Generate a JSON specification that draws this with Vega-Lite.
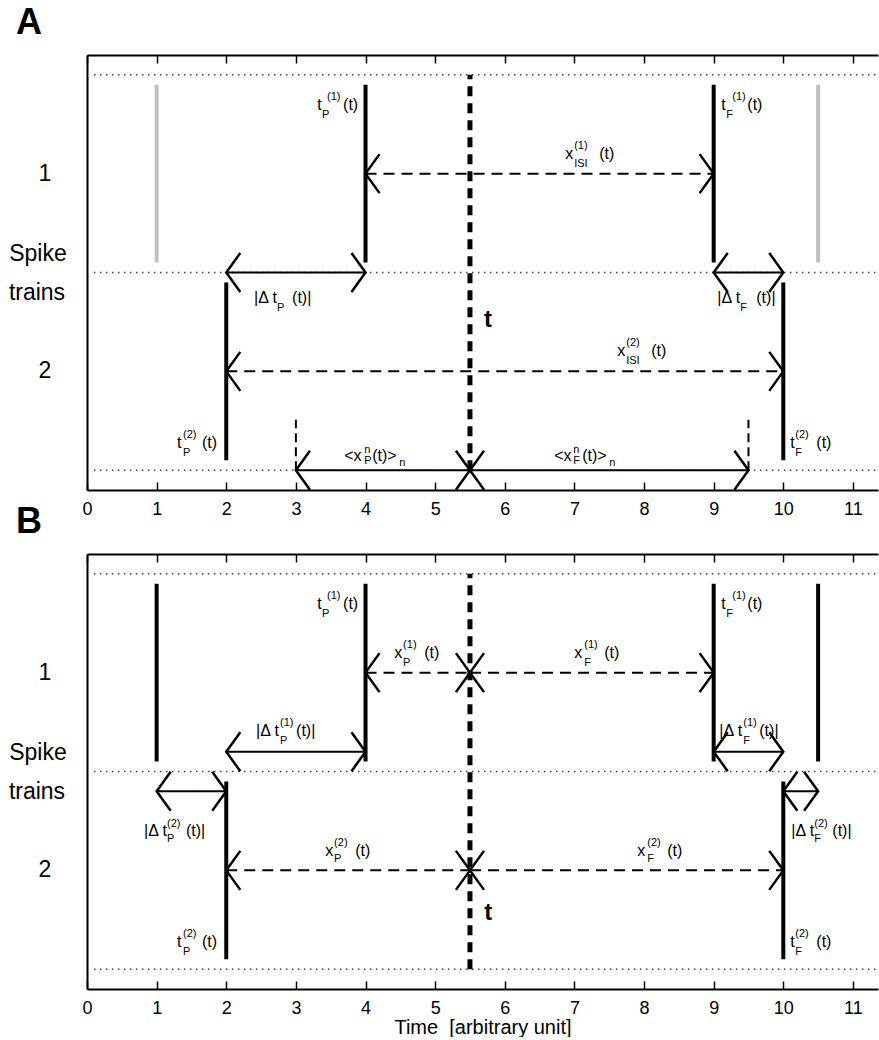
{
  "$schema": "https://vega.github.io/schema/vega-lite/v6.json",
  "background": "white",
  "padding": {"left": 8, "top": 5, "right": 0, "bottom": 0},
  "bounds": "flush",
  "spacing": 64,
  "config": {"view": {"stroke": null}, "font": "Liberation Sans"},
  "datasets": {
    "grid": [
      {"panel": "A", "x0": 0.1, "x1": 11.36, "y": 0},
      {"panel": "A", "x0": 0.1, "x1": 11.36, "y": 1},
      {"panel": "A", "x0": 0.1, "x1": 11.36, "y": 2},
      {"panel": "B", "x0": 0.1, "x1": 11.36, "y": 0},
      {"panel": "B", "x0": 0.1, "x1": 11.36, "y": 1},
      {"panel": "B", "x0": 0.1, "x1": 11.36, "y": 2}
    ],
    "spikes": [
      {"panel": "A", "x": 1, "y": 1.05, "y2": 1.95, "kind": "inactive"},
      {"panel": "A", "x": 4, "y": 1.05, "y2": 1.95, "kind": "active"},
      {"panel": "A", "x": 9, "y": 1.05, "y2": 1.95, "kind": "active"},
      {"panel": "A", "x": 10.5, "y": 1.05, "y2": 1.95, "kind": "inactive"},
      {"panel": "A", "x": 2, "y": 0.05, "y2": 0.95, "kind": "active"},
      {"panel": "A", "x": 10, "y": 0.05, "y2": 0.95, "kind": "active"},
      {"panel": "B", "x": 1, "y": 1.05, "y2": 1.95, "kind": "active"},
      {"panel": "B", "x": 4, "y": 1.05, "y2": 1.95, "kind": "active"},
      {"panel": "B", "x": 9, "y": 1.05, "y2": 1.95, "kind": "active"},
      {"panel": "B", "x": 10.5, "y": 1.05, "y2": 1.95, "kind": "active"},
      {"panel": "B", "x": 2, "y": 0.05, "y2": 0.95, "kind": "active"},
      {"panel": "B", "x": 10, "y": 0.05, "y2": 0.95, "kind": "active"}
    ],
    "tline": [
      {"panel": "A", "x": 5.5, "y": 0, "y2": 2},
      {"panel": "B", "x": 5.5, "y": 0, "y2": 2}
    ],
    "markers": [
      {"panel": "A", "x": 3, "y": 0, "y2": 0.255},
      {"panel": "A", "x": 9.5, "y": 0, "y2": 0.255}
    ],
    "arrows": [
      {"panel": "A", "x0": 2, "x1": 4, "y": 1, "style": "solid"},
      {"panel": "A", "x0": 9, "x1": 10, "y": 1, "style": "solid"},
      {"panel": "A", "x0": 3, "x1": 5.5, "y": 0, "style": "solid"},
      {"panel": "A", "x0": 5.5, "x1": 9.5, "y": 0, "style": "solid"},
      {"panel": "A", "x0": 4, "x1": 9, "y": 1.5, "style": "dashed"},
      {"panel": "A", "x0": 2, "x1": 10, "y": 0.5, "style": "dashed"},
      {"panel": "B", "x0": 2, "x1": 4, "y": 1.1, "style": "solid"},
      {"panel": "B", "x0": 9, "x1": 10, "y": 1.1, "style": "solid"},
      {"panel": "B", "x0": 1, "x1": 2, "y": 0.9, "style": "solid"},
      {"panel": "B", "x0": 10, "x1": 10.5, "y": 0.9, "style": "solid"},
      {"panel": "B", "x0": 4, "x1": 5.5, "y": 1.5, "style": "dashed"},
      {"panel": "B", "x0": 5.5, "x1": 9, "y": 1.5, "style": "dashed"},
      {"panel": "B", "x0": 2, "x1": 5.5, "y": 0.5, "style": "dashed"},
      {"panel": "B", "x0": 5.5, "x1": 10, "y": 0.5, "style": "dashed"}
    ],
    "labels": [
      {"panel": "A", "role": "main", "text": "t", "x": 3.305, "y": 1.849},
      {"panel": "A", "role": "script", "text": "P", "x": 3.376, "y": 1.798},
      {"panel": "A", "role": "script", "text": "(1)", "x": 3.448, "y": 1.889},
      {"panel": "A", "role": "main", "text": "(t)", "x": 3.678, "y": 1.849},
      {"panel": "A", "role": "main", "text": "t", "x": 9.109, "y": 1.849},
      {"panel": "A", "role": "script", "text": "F", "x": 9.181, "y": 1.798},
      {"panel": "A", "role": "script", "text": "(1)", "x": 9.267, "y": 1.889},
      {"panel": "A", "role": "main", "text": "(t)", "x": 9.483, "y": 1.849},
      {"panel": "A", "role": "main", "text": "x", "x": 6.868, "y": 1.601},
      {"panel": "A", "role": "script", "text": "(1)", "x": 6.997, "y": 1.642},
      {"panel": "A", "role": "script", "text": "ISI", "x": 6.997, "y": 1.551},
      {"panel": "A", "role": "main", "text": "(t)", "x": 7.356, "y": 1.601},
      {"panel": "A", "role": "main", "text": "|Δ t", "x": 2.399, "y": 0.873},
      {"panel": "A", "role": "script", "text": "P", "x": 2.73, "y": 0.822},
      {"panel": "A", "role": "main", "text": "(t)|", "x": 2.945, "y": 0.873},
      {"panel": "A", "role": "main", "text": "|Δ t", "x": 9.052, "y": 0.873},
      {"panel": "A", "role": "script", "text": "F", "x": 9.382, "y": 0.822},
      {"panel": "A", "role": "main", "text": "(t)|", "x": 9.612, "y": 0.873},
      {"panel": "A", "role": "main", "text": "x", "x": 7.615, "y": 0.601},
      {"panel": "A", "role": "script", "text": "(2)", "x": 7.744, "y": 0.642},
      {"panel": "A", "role": "script", "text": "ISI", "x": 7.744, "y": 0.551},
      {"panel": "A", "role": "main", "text": "(t)", "x": 8.103, "y": 0.601},
      {"panel": "A", "role": "main", "text": "t", "x": 1.293, "y": 0.138},
      {"panel": "A", "role": "script", "text": "(2)", "x": 1.379, "y": 0.176},
      {"panel": "A", "role": "script", "text": "P", "x": 1.379, "y": 0.087},
      {"panel": "A", "role": "main", "text": "(t)", "x": 1.652, "y": 0.138},
      {"panel": "A", "role": "main", "text": "t", "x": 10.101, "y": 0.138},
      {"panel": "A", "role": "script", "text": "(2)", "x": 10.172, "y": 0.176},
      {"panel": "A", "role": "script", "text": "F", "x": 10.172, "y": 0.087},
      {"panel": "A", "role": "main", "text": "(t)", "x": 10.474, "y": 0.138},
      {"panel": "A", "role": "main", "text": "<x", "x": 3.693, "y": 0.073},
      {"panel": "A", "role": "script", "text": "n", "x": 3.98, "y": 0.104},
      {"panel": "A", "role": "script", "text": "P", "x": 3.98, "y": 0.045},
      {"panel": "A", "role": "main", "text": "(t)>", "x": 4.095, "y": 0.073},
      {"panel": "A", "role": "script", "text": "n", "x": 4.483, "y": 0.035},
      {"panel": "A", "role": "main", "text": "<x", "x": 6.71, "y": 0.073},
      {"panel": "A", "role": "script", "text": "n", "x": 6.983, "y": 0.104},
      {"panel": "A", "role": "script", "text": "F", "x": 6.983, "y": 0.045},
      {"panel": "A", "role": "main", "text": "(t)>", "x": 7.112, "y": 0.073},
      {"panel": "A", "role": "script", "text": "n", "x": 7.5, "y": 0.035},
      {"panel": "A", "role": "tbold", "text": "t", "x": 5.7, "y": 0.76},
      {"panel": "A", "role": "row", "text": "1", "x": -0.603, "y": 1.5},
      {"panel": "A", "role": "row", "text": "2", "x": -0.603, "y": 0.5},
      {"panel": "A", "role": "row", "text": "Spike", "x": -0.704, "y": 1.095},
      {"panel": "A", "role": "row", "text": "trains", "x": -0.718, "y": 0.897},
      {"panel": "A", "role": "letter", "text": "A", "x": -1.02, "y": 2.26},

      {"panel": "B", "role": "main", "text": "t", "x": 3.305, "y": 1.849},
      {"panel": "B", "role": "script", "text": "P", "x": 3.376, "y": 1.798},
      {"panel": "B", "role": "script", "text": "(1)", "x": 3.448, "y": 1.889},
      {"panel": "B", "role": "main", "text": "(t)", "x": 3.678, "y": 1.849},
      {"panel": "B", "role": "main", "text": "t", "x": 9.109, "y": 1.849},
      {"panel": "B", "role": "script", "text": "F", "x": 9.181, "y": 1.798},
      {"panel": "B", "role": "script", "text": "(1)", "x": 9.267, "y": 1.889},
      {"panel": "B", "role": "main", "text": "(t)", "x": 9.483, "y": 1.849},
      {"panel": "B", "role": "main", "text": "x", "x": 4.411, "y": 1.601},
      {"panel": "B", "role": "script", "text": "(1)", "x": 4.54, "y": 1.642},
      {"panel": "B", "role": "script", "text": "P", "x": 4.54, "y": 1.551},
      {"panel": "B", "role": "main", "text": "(t)", "x": 4.842, "y": 1.601},
      {"panel": "B", "role": "main", "text": "x", "x": 6.997, "y": 1.601},
      {"panel": "B", "role": "script", "text": "(1)", "x": 7.141, "y": 1.642},
      {"panel": "B", "role": "script", "text": "F", "x": 7.141, "y": 1.551},
      {"panel": "B", "role": "main", "text": "(t)", "x": 7.428, "y": 1.601},
      {"panel": "B", "role": "main", "text": "|Δ t", "x": 2.428, "y": 1.205},
      {"panel": "B", "role": "script", "text": "(1)", "x": 2.773, "y": 1.246},
      {"panel": "B", "role": "script", "text": "P", "x": 2.773, "y": 1.154},
      {"panel": "B", "role": "main", "text": "(t)|", "x": 3.003, "y": 1.205},
      {"panel": "B", "role": "main", "text": "|Δ t", "x": 9.08, "y": 1.205},
      {"panel": "B", "role": "script", "text": "(1)", "x": 9.425, "y": 1.246},
      {"panel": "B", "role": "script", "text": "F", "x": 9.425, "y": 1.154},
      {"panel": "B", "role": "main", "text": "(t)|", "x": 9.655, "y": 1.205},
      {"panel": "B", "role": "main", "text": "|Δ t", "x": 0.819, "y": 0.699},
      {"panel": "B", "role": "script", "text": "(2)", "x": 1.149, "y": 0.734},
      {"panel": "B", "role": "script", "text": "P", "x": 1.149, "y": 0.658},
      {"panel": "B", "role": "main", "text": "(t)|", "x": 1.422, "y": 0.699},
      {"panel": "B", "role": "main", "text": "|Δ t", "x": 10.115, "y": 0.699},
      {"panel": "B", "role": "script", "text": "(2)", "x": 10.445, "y": 0.734},
      {"panel": "B", "role": "script", "text": "F", "x": 10.445, "y": 0.658},
      {"panel": "B", "role": "main", "text": "(t)|", "x": 10.704, "y": 0.699},
      {"panel": "B", "role": "main", "text": "x", "x": 3.42, "y": 0.597},
      {"panel": "B", "role": "script", "text": "(2)", "x": 3.549, "y": 0.638},
      {"panel": "B", "role": "script", "text": "P", "x": 3.549, "y": 0.557},
      {"panel": "B", "role": "main", "text": "(t)", "x": 3.851, "y": 0.597},
      {"panel": "B", "role": "main", "text": "x", "x": 7.902, "y": 0.597},
      {"panel": "B", "role": "script", "text": "(2)", "x": 8.046, "y": 0.638},
      {"panel": "B", "role": "script", "text": "F", "x": 8.046, "y": 0.557},
      {"panel": "B", "role": "main", "text": "(t)", "x": 8.333, "y": 0.597},
      {"panel": "B", "role": "main", "text": "t", "x": 1.293, "y": 0.138},
      {"panel": "B", "role": "script", "text": "(2)", "x": 1.379, "y": 0.176},
      {"panel": "B", "role": "script", "text": "P", "x": 1.379, "y": 0.087},
      {"panel": "B", "role": "main", "text": "(t)", "x": 1.652, "y": 0.138},
      {"panel": "B", "role": "main", "text": "t", "x": 10.101, "y": 0.138},
      {"panel": "B", "role": "script", "text": "(2)", "x": 10.172, "y": 0.176},
      {"panel": "B", "role": "script", "text": "F", "x": 10.172, "y": 0.087},
      {"panel": "B", "role": "main", "text": "(t)", "x": 10.474, "y": 0.138},
      {"panel": "B", "role": "tbold", "text": "t", "x": 5.704, "y": 0.284},
      {"panel": "B", "role": "row", "text": "1", "x": -0.603, "y": 1.5},
      {"panel": "B", "role": "row", "text": "2", "x": -0.603, "y": 0.5},
      {"panel": "B", "role": "row", "text": "Spike", "x": -0.704, "y": 1.095},
      {"panel": "B", "role": "row", "text": "trains", "x": -0.718, "y": 0.897},
      {"panel": "B", "role": "letter", "text": "B", "x": -1.02, "y": 2.26}
    ]
  },
  "vconcat": [
    {
      "width": 791,
      "height": 435,
      "resolve": {"axis": {"x": "independent", "y": "independent"}},
      "layer": [
        {
          "data": {"name": "grid"},
          "transform": [{"filter": "datum.panel == 'A'"}],
          "mark": {"type": "rule", "strokeDash": [1.5, 4.5], "strokeWidth": 1.3, "color": "#444444"},
          "encoding": {
            "x": {"field": "x0", "type": "quantitative", "scale": {"domain": [0, 11.36], "nice": false, "zero": false},
              "axis": {"orient": "bottom", "values": [0,1,2,3,4,5,6,7,8,9,10,11], "title": null, "grid": false, "domain": true, "domainColor": "black", "domainWidth": 2, "ticks": true, "tickColor": "black", "tickWidth": 1.5, "tickSize": -8, "labelPadding": 18, "labelFontSize": 18, "labelColor": "black", "labelFont": "Liberation Sans", "labelFlush": false, "labelOverlap": false}},
            "x2": {"field": "x1"},
            "y": {"field": "y", "type": "quantitative", "scale": {"domain": [-0.1, 2.1], "nice": false, "zero": false},
              "axis": {"orient": "left", "labels": false, "ticks": false, "title": null, "grid": false, "domain": true, "domainColor": "black", "domainWidth": 2}}
          }
        },
        {
          "data": {"name": "spikes"},
          "transform": [{"filter": "datum.panel == 'A'"}],
          "mark": {"type": "rule", "strokeWidth": 4},
          "encoding": {
            "x": {"field": "x", "type": "quantitative", "scale": {"domain": [0, 11.36], "nice": false, "zero": false},
              "axis": {"orient": "top", "values": [0,1,2,3,4,5,6,7,8,9,10,11], "labels": false, "title": null, "grid": false, "domain": true, "domainColor": "black", "domainWidth": 2, "ticks": true, "tickColor": "black", "tickWidth": 1.5, "tickSize": -8}},
            "y": {"field": "y", "type": "quantitative", "scale": {"domain": [-0.1, 2.1], "nice": false, "zero": false}, "axis": null},
            "y2": {"field": "y2"},
            "color": {"field": "kind", "type": "nominal", "scale": {"domain": ["active", "inactive"], "range": ["#000000", "#c0c0c0"]}, "legend": null}
          }
        },
        {
          "data": {"name": "tline"},
          "transform": [{"filter": "datum.panel == 'A'"}],
          "mark": {"type": "rule", "strokeWidth": 5, "strokeDash": [10, 7], "color": "black"},
          "encoding": {
            "x": {"field": "x", "type": "quantitative", "axis": null},
            "y": {"field": "y", "type": "quantitative", "axis": null},
            "y2": {"field": "y2"}
          }
        },
        {
          "data": {"name": "markers"},
          "transform": [{"filter": "datum.panel == 'A'"}],
          "mark": {"type": "rule", "strokeWidth": 2, "strokeDash": [9, 5], "color": "black"},
          "encoding": {
            "x": {"field": "x", "type": "quantitative", "axis": null},
            "y": {"field": "y", "type": "quantitative", "axis": null},
            "y2": {"field": "y2"}
          }
        },
        {
          "data": {"name": "arrows"},
          "transform": [{"filter": "datum.panel == 'A'"}],
          "mark": {"type": "rule", "strokeWidth": 2, "color": "black"},
          "encoding": {
            "x": {"field": "x0", "type": "quantitative", "axis": null},
            "x2": {"field": "x1"},
            "y": {"field": "y", "type": "quantitative", "axis": null},
            "strokeDash": {"field": "style", "type": "nominal", "scale": {"domain": ["solid", "dashed"], "range": [[1, 0], [11, 7]]}, "legend": null}
          }
        },
        {
          "data": {"name": "arrows"},
          "transform": [{"filter": "datum.panel == 'A'"}, {"fold": ["x0", "x1"], "as": ["end", "xv"]}],
          "mark": {"type": "point", "filled": false, "size": 1521, "strokeWidth": 2.5, "opacity": 1, "color": "black"},
          "encoding": {
            "x": {"field": "xv", "type": "quantitative", "axis": null},
            "y": {"field": "y", "type": "quantitative", "axis": null},
            "shape": {"field": "end", "type": "nominal", "scale": {"domain": ["x0", "x1"], "range": ["M0.72,-1L0,0L0.72,1", "M-0.72,-1L0,0L-0.72,1"]}, "legend": null}
          }
        },
        {
          "data": {"name": "labels"},
          "transform": [{"filter": "datum.panel == 'A' && datum.role == 'main'"}],
          "mark": {"type": "text", "fontSize": 16, "align": "left", "baseline": "middle", "color": "black"},
          "encoding": {"x": {"field": "x", "type": "quantitative", "axis": null}, "y": {"field": "y", "type": "quantitative", "axis": null}, "text": {"field": "text"}}
        },
        {
          "data": {"name": "labels"},
          "transform": [{"filter": "datum.panel == 'A' && datum.role == 'script'"}],
          "mark": {"type": "text", "fontSize": 11, "align": "left", "baseline": "middle", "color": "black"},
          "encoding": {"x": {"field": "x", "type": "quantitative", "axis": null}, "y": {"field": "y", "type": "quantitative", "axis": null}, "text": {"field": "text"}}
        },
        {
          "data": {"name": "labels"},
          "transform": [{"filter": "datum.panel == 'A' && datum.role == 'row'"}],
          "mark": {"type": "text", "fontSize": 23, "align": "center", "baseline": "middle", "color": "black"},
          "encoding": {"x": {"field": "x", "type": "quantitative", "axis": null}, "y": {"field": "y", "type": "quantitative", "axis": null}, "text": {"field": "text"}}
        },
        {
          "data": {"name": "labels"},
          "transform": [{"filter": "datum.panel == 'A' && datum.role == 'letter'"}],
          "mark": {"type": "text", "fontSize": 36, "fontWeight": "bold", "align": "left", "baseline": "middle", "color": "black"},
          "encoding": {"x": {"field": "x", "type": "quantitative", "axis": null}, "y": {"field": "y", "type": "quantitative", "axis": null}, "text": {"field": "text"}}
        },
        {
          "data": {"name": "labels"},
          "transform": [{"filter": "datum.panel == 'A' && datum.role == 'tbold'"}],
          "mark": {"type": "text", "fontSize": 24, "fontWeight": "bold", "align": "left", "baseline": "middle", "color": "black"},
          "encoding": {"x": {"field": "x", "type": "quantitative", "axis": null}, "y": {"field": "y", "type": "quantitative", "axis": null}, "text": {"field": "text"}}
        }
      ]
    },
    {
      "width": 791,
      "height": 435,
      "resolve": {"axis": {"x": "independent", "y": "independent"}},
      "layer": [
        {
          "data": {"name": "grid"},
          "transform": [{"filter": "datum.panel == 'B'"}],
          "mark": {"type": "rule", "strokeDash": [1.5, 4.5], "strokeWidth": 1.3, "color": "#444444"},
          "encoding": {
            "x": {"field": "x0", "type": "quantitative", "scale": {"domain": [0, 11.36], "nice": false, "zero": false},
              "axis": {"orient": "bottom", "values": [0,1,2,3,4,5,6,7,8,9,10,11], "title": "Time\u00a0\u00a0[arbitrary unit]", "titleFontSize": 20, "titleFontWeight": "normal", "titleColor": "black", "titleFont": "Liberation Sans", "titlePadding": 0, "grid": false, "domain": true, "domainColor": "black", "domainWidth": 2, "ticks": true, "tickColor": "black", "tickWidth": 1.5, "tickSize": -8, "labelPadding": 18, "labelFontSize": 18, "labelColor": "black", "labelFont": "Liberation Sans", "labelFlush": false, "labelOverlap": false}},
            "x2": {"field": "x1"},
            "y": {"field": "y", "type": "quantitative", "scale": {"domain": [-0.1, 2.1], "nice": false, "zero": false},
              "axis": {"orient": "left", "labels": false, "ticks": false, "title": null, "grid": false, "domain": true, "domainColor": "black", "domainWidth": 2}}
          }
        },
        {
          "data": {"name": "spikes"},
          "transform": [{"filter": "datum.panel == 'B'"}],
          "mark": {"type": "rule", "strokeWidth": 4},
          "encoding": {
            "x": {"field": "x", "type": "quantitative", "scale": {"domain": [0, 11.36], "nice": false, "zero": false},
              "axis": {"orient": "top", "values": [0,1,2,3,4,5,6,7,8,9,10,11], "labels": false, "title": null, "grid": false, "domain": true, "domainColor": "black", "domainWidth": 2, "ticks": true, "tickColor": "black", "tickWidth": 1.5, "tickSize": -8}},
            "y": {"field": "y", "type": "quantitative", "scale": {"domain": [-0.1, 2.1], "nice": false, "zero": false}, "axis": null},
            "y2": {"field": "y2"},
            "color": {"field": "kind", "type": "nominal", "scale": {"domain": ["active", "inactive"], "range": ["#000000", "#c0c0c0"]}, "legend": null}
          }
        },
        {
          "data": {"name": "tline"},
          "transform": [{"filter": "datum.panel == 'B'"}],
          "mark": {"type": "rule", "strokeWidth": 5, "strokeDash": [10, 7], "color": "black"},
          "encoding": {
            "x": {"field": "x", "type": "quantitative", "axis": null},
            "y": {"field": "y", "type": "quantitative", "axis": null},
            "y2": {"field": "y2"}
          }
        },
        {
          "data": {"name": "arrows"},
          "transform": [{"filter": "datum.panel == 'B'"}],
          "mark": {"type": "rule", "strokeWidth": 2, "color": "black"},
          "encoding": {
            "x": {"field": "x0", "type": "quantitative", "axis": null},
            "x2": {"field": "x1"},
            "y": {"field": "y", "type": "quantitative", "axis": null},
            "strokeDash": {"field": "style", "type": "nominal", "scale": {"domain": ["solid", "dashed"], "range": [[1, 0], [11, 7]]}, "legend": null}
          }
        },
        {
          "data": {"name": "arrows"},
          "transform": [{"filter": "datum.panel == 'B'"}, {"fold": ["x0", "x1"], "as": ["end", "xv"]}],
          "mark": {"type": "point", "filled": false, "size": 1521, "strokeWidth": 2.5, "opacity": 1, "color": "black"},
          "encoding": {
            "x": {"field": "xv", "type": "quantitative", "axis": null},
            "y": {"field": "y", "type": "quantitative", "axis": null},
            "shape": {"field": "end", "type": "nominal", "scale": {"domain": ["x0", "x1"], "range": ["M0.72,-1L0,0L0.72,1", "M-0.72,-1L0,0L-0.72,1"]}, "legend": null}
          }
        },
        {
          "data": {"name": "labels"},
          "transform": [{"filter": "datum.panel == 'B' && datum.role == 'main'"}],
          "mark": {"type": "text", "fontSize": 16, "align": "left", "baseline": "middle", "color": "black"},
          "encoding": {"x": {"field": "x", "type": "quantitative", "axis": null}, "y": {"field": "y", "type": "quantitative", "axis": null}, "text": {"field": "text"}}
        },
        {
          "data": {"name": "labels"},
          "transform": [{"filter": "datum.panel == 'B' && datum.role == 'script'"}],
          "mark": {"type": "text", "fontSize": 11, "align": "left", "baseline": "middle", "color": "black"},
          "encoding": {"x": {"field": "x", "type": "quantitative", "axis": null}, "y": {"field": "y", "type": "quantitative", "axis": null}, "text": {"field": "text"}}
        },
        {
          "data": {"name": "labels"},
          "transform": [{"filter": "datum.panel == 'B' && datum.role == 'row'"}],
          "mark": {"type": "text", "fontSize": 23, "align": "center", "baseline": "middle", "color": "black"},
          "encoding": {"x": {"field": "x", "type": "quantitative", "axis": null}, "y": {"field": "y", "type": "quantitative", "axis": null}, "text": {"field": "text"}}
        },
        {
          "data": {"name": "labels"},
          "transform": [{"filter": "datum.panel == 'B' && datum.role == 'letter'"}],
          "mark": {"type": "text", "fontSize": 36, "fontWeight": "bold", "align": "left", "baseline": "middle", "color": "black"},
          "encoding": {"x": {"field": "x", "type": "quantitative", "axis": null}, "y": {"field": "y", "type": "quantitative", "axis": null}, "text": {"field": "text"}}
        },
        {
          "data": {"name": "labels"},
          "transform": [{"filter": "datum.panel == 'B' && datum.role == 'tbold'"}],
          "mark": {"type": "text", "fontSize": 24, "fontWeight": "bold", "align": "left", "baseline": "middle", "color": "black"},
          "encoding": {"x": {"field": "x", "type": "quantitative", "axis": null}, "y": {"field": "y", "type": "quantitative", "axis": null}, "text": {"field": "text"}}
        }
      ]
    }
  ]
}
